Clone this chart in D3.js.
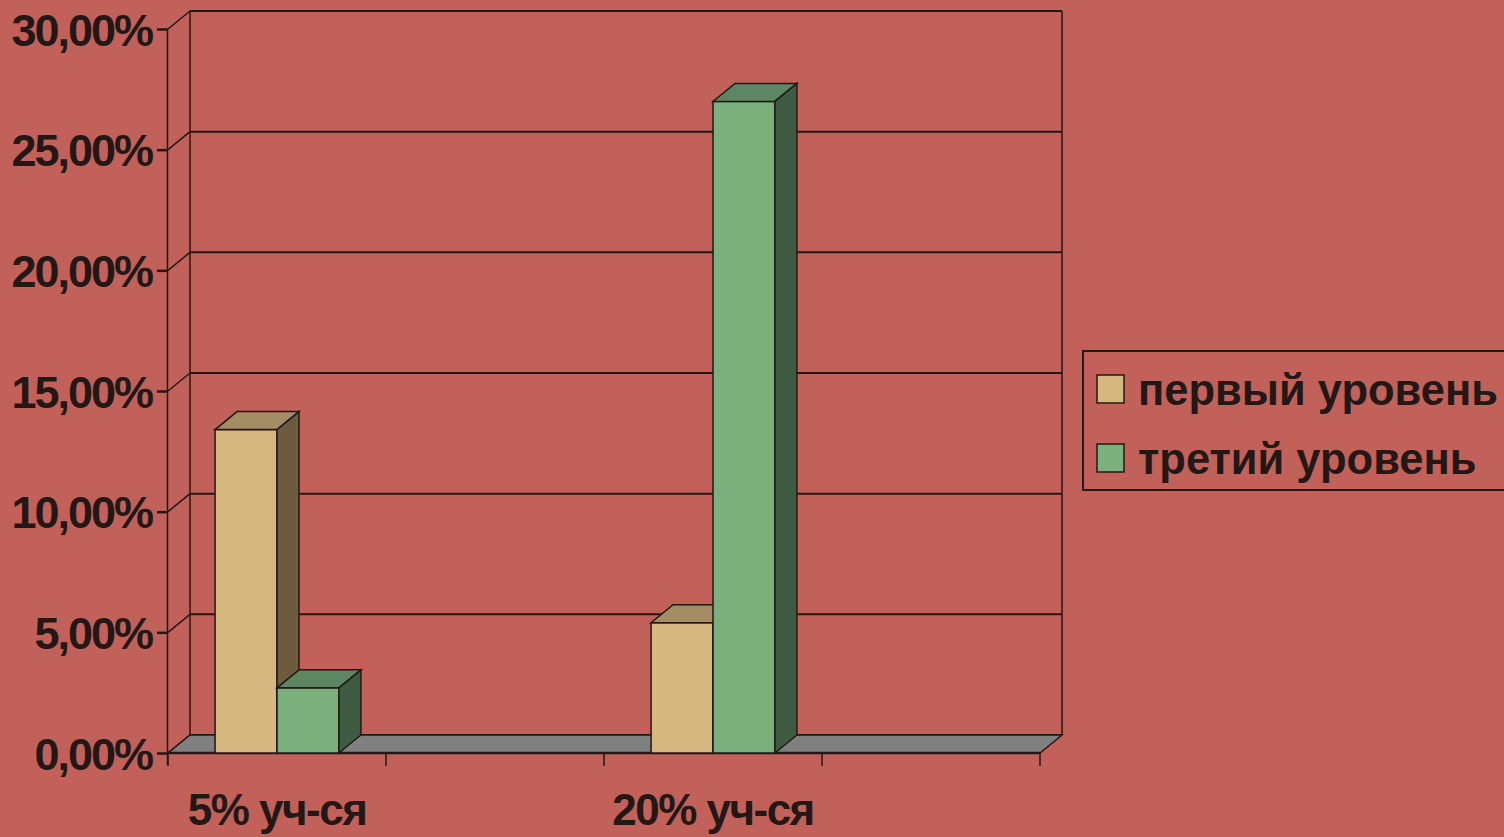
<!DOCTYPE html>
<html>
<head>
<meta charset="utf-8">
<script src="https://cdn.jsdelivr.net/npm/d3@7"></script>
<style>
  body { margin: 0; background: #C2605A; }
  text { font-family: "Liberation Sans", Arial, sans-serif; fill: #231815; }
</style>
</head>
<body>
<div id="my_dataviz"></div>
<script>
// data
var categories = ["5% уч-ся", "", "20% уч-ся", ""];
var seriesNames = ["первый уровень", "третий уровень"];
var firstLevel = [13.4, 0, 5.4, 0];
var thirdLevel = [2.7, 0, 27.0, 0];
var yTicks = [0, 5, 10, 15, 20, 25, 30];

var colors = {
    "первый уровень": { front: "#D5B77F", top: "#A48C65", side: "#6D5B40" },
    "третий уровень": { front: "#7BB07D", top: "#5C8762", side: "#3F5C42" }
};
var ink = "#231815";

var width = 1504, height = 837;
var dx = 22, dy = -18; // depth offset

var svg = d3.select("#my_dataviz")
    .append("svg")
    .attr("width", width)
    .attr("height", height);

svg.append("rect")
    .attr("width", width).attr("height", height)
    .attr("fill", "#C2605A");

var x0 = d3.scaleBand()
    .domain(d3.range(categories.length))
    .range([168, 1040]);

var x1 = d3.scaleBand()
    .domain(seriesNames)
    .range([0, x0.bandwidth()])
    .paddingOuter(0.76);

var y = d3.scaleLinear()
    .domain([0, 30])
    .range([753, 29]);

var locale = d3.formatLocale({ decimal: ",", thousands: " ", grouping: [3], currency: ["", ""] });
var fmt = function(v) { return locale.format(".2f")(v) + "%"; };

var xL = x0.range()[0], xR = x0.range()[1];

// back wall gridlines + left wall connectors
yTicks.forEach(function(t) {
    svg.append("line")
        .attr("x1", xL + dx).attr("x2", xR + dx)
        .attr("y1", y(t) + dy).attr("y2", y(t) + dy)
        .attr("stroke", ink).attr("stroke-width", 2);
    svg.append("line")
        .attr("x1", xL).attr("y1", y(t))
        .attr("x2", xL + dx).attr("y2", y(t) + dy)
        .attr("stroke", ink).attr("stroke-width", 1.5);
});

// wall verticals
svg.append("line")
    .attr("x1", xL + dx).attr("x2", xL + dx)
    .attr("y1", y(30) + dy).attr("y2", y(0) + dy)
    .attr("stroke", ink).attr("stroke-width", 1.5);
svg.append("line")
    .attr("x1", xR + dx).attr("x2", xR + dx)
    .attr("y1", y(30) + dy).attr("y2", y(0) + dy)
    .attr("stroke", ink).attr("stroke-width", 1.5);

// floor
svg.append("path")
    .attr("d", "M" + xL + "," + y(0) + "L" + xR + "," + y(0) +
        "L" + (xR + dx) + "," + (y(0) + dy) + "L" + (xL + dx) + "," + (y(0) + dy) + "Z")
    .attr("fill", "#808080")
    .attr("stroke", ink).attr("stroke-width", 1.5);

// y axis
var yAxis = svg.append("g")
    .attr("transform", "translate(" + xL + ",0)")
    .call(d3.axisLeft(y).tickValues(yTicks).tickFormat(fmt).tickSize(11).tickPadding(5));
yAxis.select(".domain").attr("stroke", ink).attr("stroke-width", 1.5)
    .attr("d", "M-0.5," + y(30) + "V" + (y(0) + 12));
yAxis.selectAll(".tick line").attr("stroke", ink).attr("stroke-width", 2.5);
yAxis.selectAll(".tick text")
    .style("font-size", "45px")
    .style("font-weight", "bold")
    .style("letter-spacing", "-2px")
    .attr("fill", ink)
    .attr("dy", "0.36em");

// x axis
var xAxis = svg.append("g")
    .attr("transform", "translate(0," + y(0) + ")");
xAxis.append("line")
    .attr("x1", xL).attr("x2", xR)
    .attr("stroke", ink).attr("stroke-width", 2.5);
x0.domain().concat([categories.length]).forEach(function(i) {
    var xx = i < categories.length ? x0(i) : xR;
    xAxis.append("line")
        .attr("x1", xx).attr("x2", xx)
        .attr("y1", 0).attr("y2", 13)
        .attr("stroke", ink).attr("stroke-width", 1.5);
});
xAxis.selectAll("text.cat")
    .data(categories)
    .enter()
    .append("text")
    .attr("class", "cat")
    .attr("x", function(d, i) { return x0(i) + x0.bandwidth() / 2; })
    .attr("y", 72)
    .attr("text-anchor", "middle")
    .style("font-size", "44px")
    .style("font-weight", "bold")
    .style("letter-spacing", "-1.5px")
    .text(function(d) { return d; });

// bars
var bars = [];
categories.forEach(function(c, i) {
    bars.push({ cat: i, s: seriesNames[0], v: firstLevel[i] });
    bars.push({ cat: i, s: seriesNames[1], v: thirdLevel[i] });
});

bars.filter(function(d) { return d.v > 0; }).forEach(function(d) {
    var bx = x0(d.cat) + x1(d.s), bw = x1.bandwidth();
    var yt = y(d.v), yb = y(0);
    var g = svg.append("g");
    // front
    g.append("rect")
        .attr("x", bx).attr("y", yt)
        .attr("width", bw).attr("height", yb - yt)
        .attr("fill", colors[d.s].front)
        .attr("stroke", ink).attr("stroke-width", 1.5);
    // top
    g.append("path")
        .attr("d", "M" + bx + "," + yt + "L" + (bx + bw) + "," + yt +
            "L" + (bx + bw + dx) + "," + (yt + dy) + "L" + (bx + dx) + "," + (yt + dy) + "Z")
        .attr("fill", colors[d.s].top)
        .attr("stroke", ink).attr("stroke-width", 1.5);
    // side
    g.append("path")
        .attr("d", "M" + (bx + bw) + "," + yt + "L" + (bx + bw + dx) + "," + (yt + dy) +
            "L" + (bx + bw + dx) + "," + (yb + dy) + "L" + (bx + bw) + "," + yb + "Z")
        .attr("fill", colors[d.s].side)
        .attr("stroke", ink).attr("stroke-width", 1.5);
});

// legend
var legend = svg.append("g").attr("transform", "translate(1083,351)");
legend.append("rect")
    .attr("width", 440).attr("height", 139)
    .attr("fill", "none")
    .attr("stroke", ink).attr("stroke-width", 2);
seriesNames.forEach(function(s, i) {
    var ly = 24 + i * 69;
    legend.append("rect")
        .attr("x", 14).attr("y", ly)
        .attr("width", 27).attr("height", 28)
        .attr("fill", colors[s].front)
        .attr("stroke", ink).attr("stroke-width", 1.5);
    legend.append("text")
        .attr("x", 55).attr("y", ly + 14)
        .attr("dy", "0.36em")
        .style("font-size", "43.5px")
        .style("font-weight", "bold")
        .text(s);
});
</script>
</body>
</html>
